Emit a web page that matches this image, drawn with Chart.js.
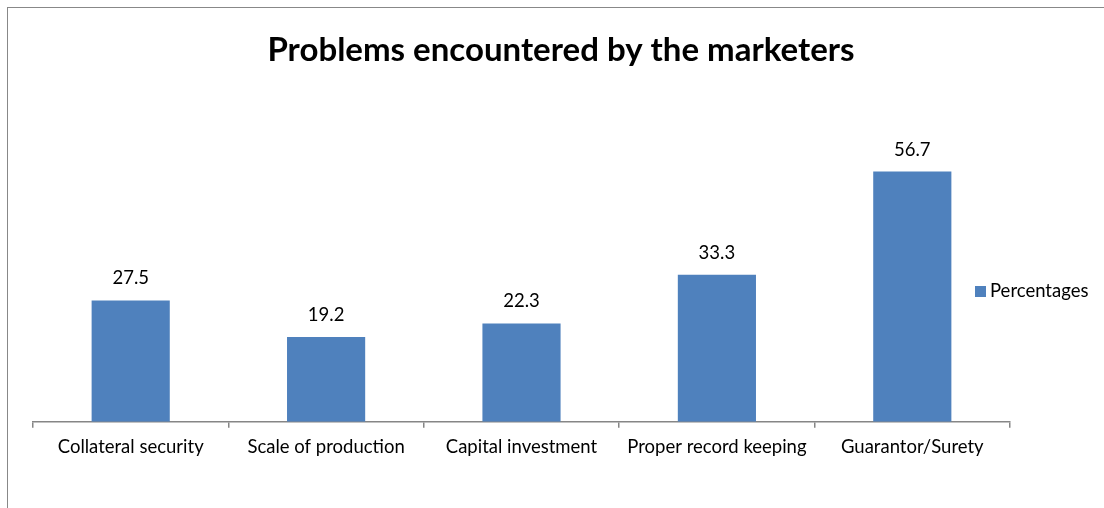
<!DOCTYPE html>
<html>
<head>
<meta charset="utf-8">
<script src="https://cdn.jsdelivr.net/npm/chart.js@4.4.1/dist/chart.umd.min.js"></script>
<style>
  html, body { margin: 0; padding: 0; background: #fff; }
  #wrap { position: relative; width: 1104px; height: 508px; }
  #frame { position: absolute; left: 7px; top: 7px; right: 0; bottom: 0;
           border-left: 1px solid #888; border-top: 1px solid #888; }
  canvas { position: absolute; left: 0; top: 0; }
</style>
</head>
<body>
<div id="wrap">
  <div id="frame"></div>
  <canvas id="problemsChart" width="1104" height="508"></canvas>
</div>
<script>
const categories = ["Collateral security", "Scale of production", "Capital investment", "Proper record keeping", "Guarantor/Surety"];
const percentages = [27.5, 19.2, 22.3, 33.3, 56.7];
const seriesName = "Percentages";
const chartTitle = "Problems encountered by the marketers";

const font = "Lato, 'Open Sans', sans-serif";
const barColor = "#4F81BD";

// value labels above bars, title and legend drawn on canvas
const extras = {
  id: "extras",
  afterDatasetsDraw(chart) {
    const ctx = chart.ctx;
    const meta = chart.getDatasetMeta(0);
    ctx.save();
    ctx.fillStyle = "#000";
    ctx.font = "18.5px " + font;
    ctx.textAlign = "center";
    ctx.textBaseline = "middle";
    meta.data.forEach((bar, i) => {
      ctx.fillText(percentages[i].toFixed(1), bar.x, bar.y - 22);
    });

    // title
    ctx.font = "bold 33px " + font;
    ctx.fillText(chartTitle, 561, 50);

    // legend
    ctx.fillStyle = barColor;
    ctx.fillRect(975, 286, 11, 11);
    ctx.fillStyle = "#000";
    ctx.font = "18.5px " + font;
    ctx.textAlign = "left";
    ctx.fillText(seriesName, 990, 291);
    ctx.restore();
  }
};

new Chart(document.getElementById("problemsChart").getContext("2d"), {
  type: "bar",
  data: {
    labels: categories,
    datasets: [{
      label: seriesName,
      data: percentages,
      backgroundColor: barColor,
      borderWidth: 0,
      categoryPercentage: 0.4,
      barPercentage: 1
    }]
  },
  options: {
    responsive: false,
    animation: false,
    layout: { padding: { left: 33, right: 94, top: 157, bottom: 42 } },
    plugins: {
      legend: { display: false },
      title: { display: false },
      tooltip: { enabled: false }
    },
    scales: {
      x: {
        offset: true,
        border: { display: true, color: "#868686", width: 1.5 },
        grid: { display: true, offset: true, drawOnChartArea: false, drawTicks: true, tickLength: 6, color: "#868686", lineWidth: 1.5 },
        ticks: { color: "#000", font: { family: font, size: 18.5 }, padding: 8, maxRotation: 0, autoSkip: false }
      },
      y: {
        display: false,
        min: 0,
        max: 60
      }
    }
  },
  plugins: [extras]
});
</script>
</body>
</html>
